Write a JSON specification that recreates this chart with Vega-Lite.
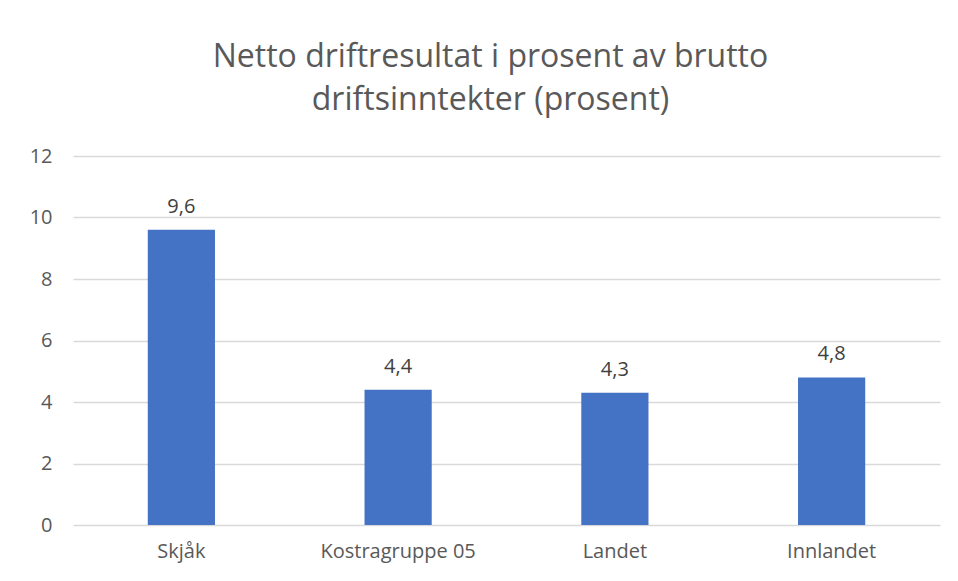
{
  "$schema": "https://vega.github.io/schema/vega-lite/v6.json",
  "autosize": "none",
  "width": 867,
  "height": 369,
  "padding": {"left": 73, "top": 156, "right": 18, "bottom": 56},
  "background": "white",
  "config": {
    "font": "Open Sans",
    "view": {"stroke": null},
    "locale": {"number": {"decimal": ",", "thousands": " ", "grouping": [3], "currency": ["", " kr"]}}
  },
  "title": {
    "text": ["Netto driftresultat i prosent av brutto", "driftsinntekter (prosent)"],
    "fontSize": 32,
    "fontWeight": "normal",
    "color": "#595959",
    "font": "Open Sans",
    "lineHeight": 43,
    "offset": 29,
    "dx": -16
  },
  "data": {
    "values": [
      {"kategori": "Skjåk", "verdi": 9.6},
      {"kategori": "Kostragruppe 05", "verdi": 4.4},
      {"kategori": "Landet", "verdi": 4.3},
      {"kategori": "Innlandet", "verdi": 4.8}
    ]
  },
  "encoding": {
    "x": {
      "field": "kategori",
      "type": "nominal",
      "sort": null,
      "scale": {"paddingInner": 0.69, "paddingOuter": 0.345},
      "axis": {
        "title": null,
        "labelAngle": 0,
        "labelFontSize": 20,
        "labelColor": "#595959",
        "labelPadding": 16,
        "ticks": false,
        "domain": false
      }
    },
    "y": {
      "field": "verdi",
      "type": "quantitative",
      "scale": {"domain": [0, 12]},
      "axis": {
        "title": null,
        "values": [0, 2, 4, 6, 8, 10, 12],
        "labelFontSize": 20,
        "labelColor": "#595959",
        "labelPadding": 21,
        "ticks": false,
        "domain": false,
        "gridColor": "#d9d9d9",
        "gridWidth": 1.5
      }
    }
  },
  "layer": [
    {"mark": {"type": "bar", "color": "#4472c4"}},
    {
      "mark": {"type": "text", "baseline": "bottom", "dy": -13, "fontSize": 20, "color": "#404040"},
      "encoding": {"text": {"field": "verdi", "type": "quantitative", "format": ".1f"}}
    }
  ]
}
